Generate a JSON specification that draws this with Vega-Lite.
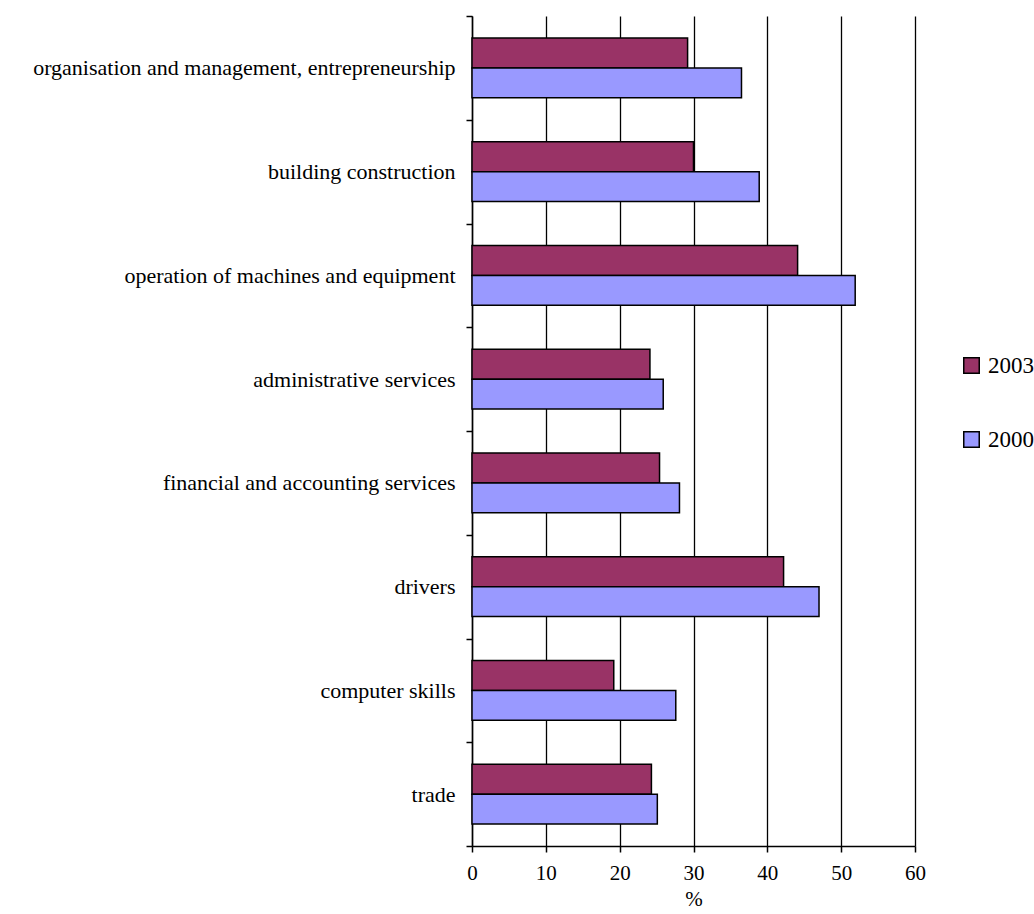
{
  "$schema": "https://vega.github.io/schema/vega-lite/v6.json",
  "autosize": {"type": "none"},
  "padding": {"left": 472, "top": 16, "right": 119, "bottom": 68},
  "width": 443,
  "height": 830,
  "background": "white",
  "config": {
    "view": {"stroke": null},
    "font": "Liberation Serif",
    "axis": {"labelFont": "Liberation Serif", "titleFont": "Liberation Serif"},
    "legend": {"labelFont": "Liberation Serif"}
  },
  "data": {
    "values": [
      {"cat": "organisation and management, entrepreneurship", "year": "2003", "v": 29.2},
      {"cat": "organisation and management, entrepreneurship", "year": "2000", "v": 36.5},
      {"cat": "building construction", "year": "2003", "v": 30.0},
      {"cat": "building construction", "year": "2000", "v": 38.9},
      {"cat": "operation of machines and equipment", "year": "2003", "v": 44.1},
      {"cat": "operation of machines and equipment", "year": "2000", "v": 51.9},
      {"cat": "administrative services", "year": "2003", "v": 24.1},
      {"cat": "administrative services", "year": "2000", "v": 25.9},
      {"cat": "financial and accounting services", "year": "2003", "v": 25.4},
      {"cat": "financial and accounting services", "year": "2000", "v": 28.1},
      {"cat": "drivers", "year": "2003", "v": 42.2},
      {"cat": "drivers", "year": "2000", "v": 47.0},
      {"cat": "computer skills", "year": "2003", "v": 19.2},
      {"cat": "computer skills", "year": "2000", "v": 27.6},
      {"cat": "trade", "year": "2003", "v": 24.3},
      {"cat": "trade", "year": "2000", "v": 25.1}
    ]
  },
  "mark": {"type": "bar", "stroke": "black", "strokeWidth": 1.5, "cornerRadius": 0},
  "encoding": {
    "y": {
      "field": "cat",
      "type": "nominal",
      "sort": null,
      "scale": {"paddingInner": 0, "paddingOuter": 0},
      "axis": {
        "title": null,
        "tickBand": "extent",
        "tickSize": 6,
        "tickColor": "black",
        "tickWidth": 1.5,
        "domainColor": "black",
        "domainWidth": 1.5,
        "labelFont": "Liberation Serif",
        "labelFontSize": 22,
        "labelColor": "black",
        "labelPadding": 11,
        "labelLimit": 600,
        "grid": false
      }
    },
    "yOffset": {
      "field": "year",
      "type": "nominal",
      "sort": ["2003", "2000"],
      "scale": {"paddingInner": 0, "paddingOuter": 0.73}
    },
    "x": {
      "field": "v",
      "type": "quantitative",
      "scale": {"domain": [0, 60], "nice": false},
      "axis": {
        "title": "%",
        "titleFont": "Liberation Serif",
        "titleFontSize": 21,
        "titleFontWeight": "normal",
        "titleColor": "black",
        "titlePadding": 5,
        "values": [0, 10, 20, 30, 40, 50, 60],
        "labelFlush": false,
        "tickSize": 6,
        "tickColor": "black",
        "tickWidth": 1.5,
        "domainColor": "black",
        "domainWidth": 1.5,
        "labelFont": "Liberation Serif",
        "labelFontSize": 21,
        "labelColor": "black",
        "labelPadding": 10,
        "grid": true,
        "gridColor": "black",
        "gridWidth": 1.3,
        "gridOpacity": 1
      }
    },
    "color": {
      "field": "year",
      "type": "nominal",
      "scale": {"domain": ["2003", "2000"], "range": ["#993366", "#9999FF"]},
      "legend": {
        "title": null,
        "orient": "none",
        "legendX": 488,
        "legendY": 338,
        "symbolType": "square",
        "symbolSize": 240,
        "symbolStrokeColor": "black",
        "symbolStrokeWidth": 1.5,
        "symbolOpacity": 1,
        "labelFont": "Liberation Serif",
        "labelFontSize": 23,
        "labelColor": "black",
        "labelOffset": 5,
        "rowPadding": 50
      }
    }
  }
}
